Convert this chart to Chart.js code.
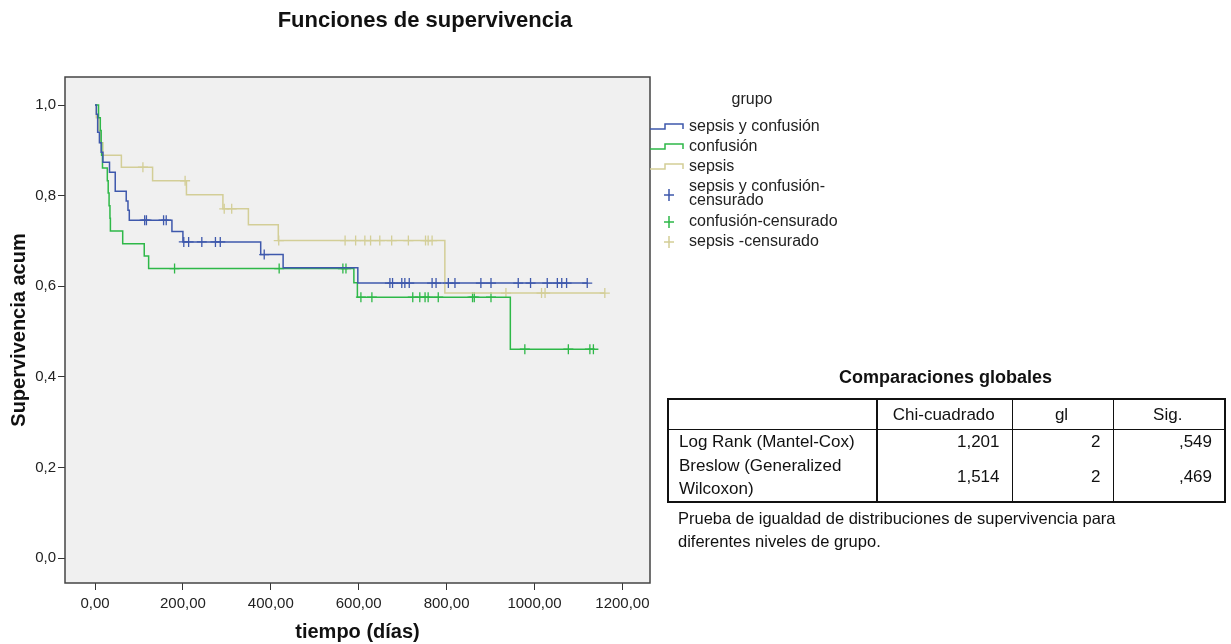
<!DOCTYPE html>
<html>
<head>
<meta charset="utf-8">
<script src="https://cdn.jsdelivr.net/npm/chart.js@4.4.1/dist/chart.umd.min.js"></script>
<style>
    body { margin: 0; background: #fff; font-family: 'Liberation Sans', Arial, sans-serif; color: #111; }
    #wrap { position: relative; width: 1231px; height: 644px; overflow: hidden; }
    #survChart { position: absolute; left: 0; top: 0; }
    #mainTitle { position: absolute; left: 175px; width: 500px; top: 7px; text-align: center; font-weight: bold; font-size: 22px; }
    #cmpTitle { position: absolute; left: 668px; width: 555px; top: 367px; text-align: center; font-weight: bold; font-size: 18px; }
    #cmp { position: absolute; left: 667px; top: 398px; width: 557px; border-collapse: collapse; table-layout: fixed; font-size: 17px; border: 2px solid #111; }
    #cmp th, #cmp td { padding: 0 12px 0 10px; font-weight: normal; }
    #cmp th { height: 29px; text-align: center; border-bottom: 1px solid #111; border-left: 1px solid #111; }
    #cmp .rowhead { text-align: left; border-right: 2px solid #111; line-height: 23px; }
    #cmp td.num { text-align: right; border-left: 1px solid #111; }
    #cmp tr.r1 td { height: 23px; }
    #cmp tr.r2 td { height: 48px; }
    #note { position: absolute; left: 678px; top: 507px; font-size: 16.5px; line-height: 23px; }
</style>
</head>
<body>
<div id="wrap">
    <canvas id="survChart" width="1231" height="644"></canvas>
    <div id="mainTitle">Funciones de supervivencia</div>
    <div id="cmpTitle">Comparaciones globales</div>
    <table id="cmp">
        <colgroup><col style="width:209px"><col style="width:135px"><col style="width:101px"><col style="width:112px"></colgroup>
        <tr><th class="rowhead" style="border-left:none"></th><th>Chi-cuadrado</th><th>gl</th><th>Sig.</th></tr>
        <tr class="r1"><td class="rowhead">Log Rank (Mantel-Cox)</td><td class="num">1,201</td><td class="num">2</td><td class="num">,549</td></tr>
        <tr class="r2"><td class="rowhead">Breslow (Generalized<br>Wilcoxon)</td><td class="num">1,514</td><td class="num">2</td><td class="num">,469</td></tr>
    </table>
    <div id="note">Prueba de igualdad de distribuciones de supervivencia para<br>diferentes niveles de grupo.</div>
</div>
<script>
// sepsis y confusión
const sycTimes = [0, 3, 6, 10, 14, 18, 33, 46, 71, 75, 78, 175, 200, 377, 428, 598];
const sycSurv = [1.0, 0.98, 0.94, 0.917, 0.896, 0.874, 0.852, 0.81, 0.788, 0.768, 0.746, 0.721, 0.698, 0.67, 0.641, 0.607];
const sycCens = [113, 117, 156, 162, 202, 213, 243, 274, 285, 385, 671, 677, 698, 705, 715, 767, 776, 804, 819, 878, 901, 963, 991, 1029, 1052, 1062, 1073, 1120];

// confusión
const confTimes = [0, 8, 12, 14, 15, 17, 28, 30, 32, 34, 35, 63, 112, 122, 589, 597, 945];
const confSurv = [1.0, 0.972, 0.944, 0.917, 0.889, 0.861, 0.833, 0.806, 0.778, 0.75, 0.722, 0.694, 0.667, 0.639, 0.608, 0.576, 0.461];
const confCens = [181, 419, 564, 571, 605, 630, 723, 739, 751, 758, 781, 859, 863, 901, 978, 1077, 1126, 1134];

// sepsis
const sepTimes = [0, 3, 8, 12, 18, 60, 131, 208, 291, 349, 417, 796];
const sepSurv = [1.0, 0.972, 0.944, 0.917, 0.889, 0.863, 0.833, 0.802, 0.771, 0.736, 0.701, 0.585];
const sepCens = [109, 205, 294, 311, 418, 569, 593, 614, 627, 648, 675, 713, 752, 758, 767, 935, 1016, 1024, 1160];

const xTicks = [0, 200, 400, 600, 800, 1000, 1200];
const yTicks = [0, 0.2, 0.4, 0.6, 0.8, 1.0];

const BLUE = '#3E58AC', GREEN = '#2EB848', TAN = '#D3CE97';
const FONT = "'Liberation Sans', Arial, sans-serif";

function survAt(times, surv, t) {
    let s = surv[0];
    for (let i = 0; i < times.length; i++) {
        if (times[i] <= t) s = surv[i];
    }
    return s;
}

function curve(times, surv, cens) {
    const pts = times.map((t, i) => ({ x: t, y: surv[i] }));
    const last = Math.max(times[times.length - 1], ...cens);
    pts.push({ x: last, y: survAt(times, surv, last) });
    return pts;
}

function marks(times, surv, cens) {
    return cens.map(t => ({ x: t, y: survAt(times, surv, t) }));
}

function stepSet(label, data, color) {
    return { label, data, borderColor: color, borderWidth: 1.5, pointRadius: 0, stepped: true, fill: false };
}

function censSet(label, data, color) {
    return { label, data, showLine: false, pointStyle: 'cross', pointRadius: 5, pointBorderWidth: 1.3, pointBorderColor: color, borderColor: color };
}

// gray plot background and frame
const plotFrame = {
    id: 'plotFrame',
    beforeDraw(chart) {
        const { ctx, chartArea: a } = chart;
        ctx.save();
        ctx.fillStyle = '#f0f0f0';
        ctx.fillRect(a.left, a.top, a.width, a.height);
        ctx.restore();
    },
    afterDraw(chart) {
        const { ctx, chartArea: a } = chart;
        ctx.save();
        ctx.strokeStyle = '#444';
        ctx.lineWidth = 1.5;
        ctx.strokeRect(a.left, a.top, a.width, a.height);
        ctx.restore();
    }
};

// SPSS style legend on the right
const groupLegend = {
    id: 'groupLegend',
    afterDraw(chart) {
        const ctx = chart.ctx;
        ctx.save();
        ctx.font = '16px ' + FONT;
        ctx.fillStyle = '#222';
        ctx.textBaseline = 'middle';
        ctx.textAlign = 'center';
        ctx.fillText('grupo', 752, 100);
        ctx.textAlign = 'left';

        const rows = [
            { text: ['sepsis y confusión'], color: BLUE, kind: 'step', y: 127 },
            { text: ['confusión'], color: GREEN, kind: 'step', y: 147 },
            { text: ['sepsis'], color: TAN, kind: 'step', y: 167 },
            { text: ['sepsis y confusión-', 'censurado'], color: BLUE, kind: 'cross', y: 187 },
            { text: ['confusión-censurado'], color: GREEN, kind: 'cross', y: 222 },
            { text: ['sepsis -censurado'], color: TAN, kind: 'cross', y: 242 }
        ];
        rows.forEach(r => {
            ctx.strokeStyle = r.color;
            ctx.lineWidth = 1.5;
            ctx.beginPath();
            if (r.kind === 'step') {
                const lo = r.y + 2, hi = r.y - 3;
                ctx.moveTo(650, lo);
                ctx.lineTo(665, lo);
                ctx.lineTo(665, hi);
                ctx.lineTo(683, hi);
                ctx.lineTo(683, lo);
            } else {
                const cy = r.text.length > 1 ? r.y + 8 : r.y;
                ctx.moveTo(664, cy);
                ctx.lineTo(674, cy);
                ctx.moveTo(669, cy - 6);
                ctx.lineTo(669, cy + 6);
            }
            ctx.stroke();
            ctx.fillStyle = '#222';
            r.text.forEach((t, i) => ctx.fillText(t, 689, r.y + i * 14));
        });
        ctx.restore();
    }
};

new Chart(document.getElementById('survChart'), {
    type: 'line',
    data: {
        datasets: [
            stepSet('sepsis y confusión', curve(sycTimes, sycSurv, sycCens), BLUE),
            stepSet('confusión', curve(confTimes, confSurv, confCens), GREEN),
            stepSet('sepsis', curve(sepTimes, sepSurv, sepCens), TAN),
            censSet('sepsis y confusión-censurado', marks(sycTimes, sycSurv, sycCens), BLUE),
            censSet('confusión-censurado', marks(confTimes, confSurv, confCens), GREEN),
            censSet('sepsis -censurado', marks(sepTimes, sepSurv, sepCens), TAN)
        ]
    },
    options: {
        responsive: false,
        animation: false,
        layout: { padding: { left: 0, right: 581, top: 77, bottom: 0 } },
        plugins: {
            legend: { display: false },
            tooltip: { enabled: false },
            title: { display: false }
        },
        scales: {
            x: {
                type: 'linear',
                min: -68.3,
                max: 1262.8,
                afterBuildTicks: ax => { ax.ticks = xTicks.map(v => ({ value: v })); },
                afterFit: s => { s.height = 61; },
                grid: { drawOnChartArea: false, drawTicks: true, tickLength: 7, color: '#333' },
                border: { display: false },
                ticks: {
                    autoSkip: false, maxRotation: 0, padding: 5, color: '#222',
                    font: { family: FONT, size: 15 },
                    callback: v => v.toFixed(2).replace('.', ',')
                },
                title: {
                    display: true, text: 'tiempo (días)', color: '#111',
                    font: { family: FONT, size: 20, weight: 'bold' },
                    padding: { top: 3, bottom: 0 }
                }
            },
            y: {
                min: -0.055,
                max: 1.062,
                afterBuildTicks: ax => { ax.ticks = yTicks.map(v => ({ value: v })); },
                afterFit: s => { s.width = 65; },
                grid: { drawOnChartArea: false, drawTicks: true, tickLength: 7, color: '#333' },
                border: { display: false },
                ticks: {
                    padding: 2, color: '#222',
                    font: { family: FONT, size: 15 },
                    callback: v => v.toFixed(1).replace('.', ',')
                },
                title: {
                    display: true, text: 'Supervivencia acum', color: '#111',
                    font: { family: FONT, size: 20, weight: 'bold' },
                    padding: { top: 7, bottom: 0 }
                }
            }
        }
    },
    plugins: [plotFrame, groupLegend]
});
</script>
</body>
</html>
